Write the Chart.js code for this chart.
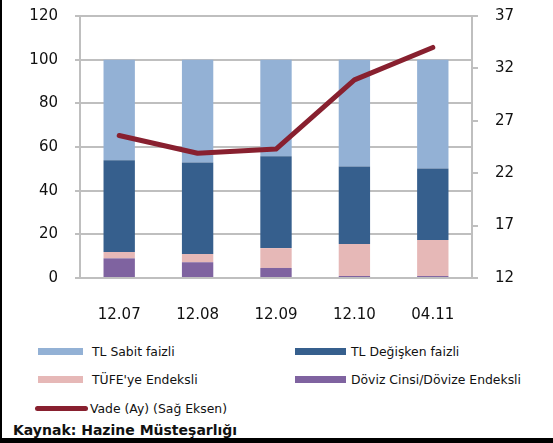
<!DOCTYPE html>
<html>
<head>
<meta charset="utf-8">
<script src="https://cdn.jsdelivr.net/npm/chart.js@4"></script>
<style>
    body { margin: 0; background: #fff; }
    #wrap {
        position: relative;
        width: 553px;
        height: 443px;
        overflow: hidden;
        font-family: 'DejaVu Sans', sans-serif;
        color: #111;
    }
    #chart { position: absolute; left: 0; top: 0; }
    .edge { position: absolute; background: #000; }
    .lg {
        position: absolute;
        height: 16px;
        display: flex;
        align-items: center;
        font-size: 12.4px;
        white-space: nowrap;
    }
    #source {
        position: absolute;
        left: 13px;
        top: 422px;
        font-weight: bold;
        font-size: 14px;
    }
</style>
</head>
<body>
<div id="wrap">
    <canvas id="chart" width="553" height="330"></canvas>
    <div id="legend"></div>
    <div id="source">Kaynak: Hazine Müsteşarlığı</div>
    <div class="edge" style="left:0;top:0;width:2px;height:443px"></div>
    <div class="edge" style="left:0;top:438px;width:553px;height:5px"></div>
</div>
<script>
// --- data ---
const categories = ['12.07', '12.08', '12.09', '12.10', '04.11'];
const tlSabit = [46.1, 47.1, 44.2, 48.9, 49.8];
const tlDegisken = [42.0, 41.9, 42.1, 35.5, 32.8];
const tufeEndeksli = [2.9, 3.8, 9.1, 14.7, 16.5];
const dovizEndeksli = [9.0, 7.2, 4.6, 0.9, 0.9];
const vade = [25.6, 23.9, 24.3, 30.9, 34.0];
const rightTicks = [12, 17, 22, 27, 32, 37];

const gridGray = '#BFBFBF';
const tickFont = { family: 'DejaVu Sans', size: 15 };

function bar(label, data, color) {
    return {
        type: 'bar',
        label: label,
        data: data,
        backgroundColor: color,
        borderWidth: 0,
        barPercentage: 0.4,
        categoryPercentage: 1,
        yAxisID: 'y',
        order: 1
    };
}

// y axes: fixed width, label overflow left to layout padding
function fixY(width) {
    return function (s) {
        s.width = width;
        s.paddingTop = 0;
        s.paddingBottom = 0;
    };
}

const datasets = [
    {
        type: 'line',
        label: 'Vade (Ay) (Sağ Eksen)',
        data: vade,
        borderColor: '#88202F',
        backgroundColor: '#88202F',
        borderWidth: 5,
        pointRadius: 0,
        tension: 0,
        borderCapStyle: 'round',
        borderJoinStyle: 'round',
        yAxisID: 'y1',
        order: 0
    },
    bar('Döviz Cinsi/Dövize Endeksli', dovizEndeksli, '#7F63A0'),
    bar("TÜFE'ye Endeksli", tufeEndeksli, '#E6B8B7'),
    bar('TL Değişken faizli', tlDegisken, '#365F8D'),
    bar('TL Sabit faizli', tlSabit, '#93B1D5')
];

const chart = new Chart(document.getElementById('chart').getContext('2d'), {
    data: { labels: categories, datasets: datasets },
    options: {
        responsive: false,
        animation: false,
        layout: { padding: { top: 16, left: 0, right: 0, bottom: 0 } },
        plugins: {
            legend: { display: false },
            tooltip: { enabled: false }
        },
        scales: {
            x: {
                stacked: true,
                grid: { display: false },
                border: { display: false },
                ticks: { font: tickFont, color: '#111', padding: 20 },
                afterFit(s) { s.height = 52; }
            },
            y: {
                stacked: true,
                min: 0,
                max: 120,
                ticks: { stepSize: 20, font: tickFont, color: '#111', padding: 17 },
                grid: { color: gridGray, lineWidth: 2, tickLength: 5 },
                border: { color: gridGray, width: 2 },
                afterFit: fixY(80)
            },
            y1: {
                position: 'right',
                min: 12,
                max: 37,
                afterBuildTicks(s) { s.ticks = rightTicks.map(v => ({ value: v })); },
                ticks: { font: tickFont, color: '#111', padding: 17 },
                grid: { drawOnChartArea: false, color: gridGray, lineWidth: 2, tickLength: 6 },
                border: { color: gridGray, width: 2 },
                afterFit: fixY(81)
            }
        }
    }
});

// --- HTML legend, two columns like the original ---
const legendOrder = ['TL Sabit faizli', 'TL Değişken faizli', "TÜFE'ye Endeksli",
                     'Döviz Cinsi/Dövize Endeksli', 'Vade (Ay) (Sağ Eksen)'];
const slots = [
    { x: 38, y: 351, w: 45, gap: 9 },
    { x: 295, y: 351, w: 51, gap: 5 },
    { x: 38, y: 379, w: 45, gap: 9 },
    { x: 295, y: 379, w: 51, gap: 5 },
    { x: 35, y: 408, w: 53, gap: 2 }
];
const legendBox = document.getElementById('legend');
legendOrder.forEach((name, i) => {
    const ds = chart.data.datasets.find(d => d.label === name);
    const slot = slots[i];
    const item = document.createElement('div');
    item.className = 'lg';
    item.style.left = slot.x + 'px';
    item.style.top = (slot.y - 8) + 'px';
    const sw = document.createElement('span');
    const isLine = ds.type === 'line';
    sw.style.cssText = `
        display: inline-block;
        width: ${slot.w}px;
        height: ${isLine ? 5 : 7}px;
        background: ${isLine ? ds.borderColor : ds.backgroundColor};
        border-radius: ${isLine ? '3px' : '0'};
        margin-right: ${slot.gap}px;
    `;
    item.appendChild(sw);
    item.appendChild(document.createTextNode(name));
    legendBox.appendChild(item);
});
</script>
</body>
</html>
